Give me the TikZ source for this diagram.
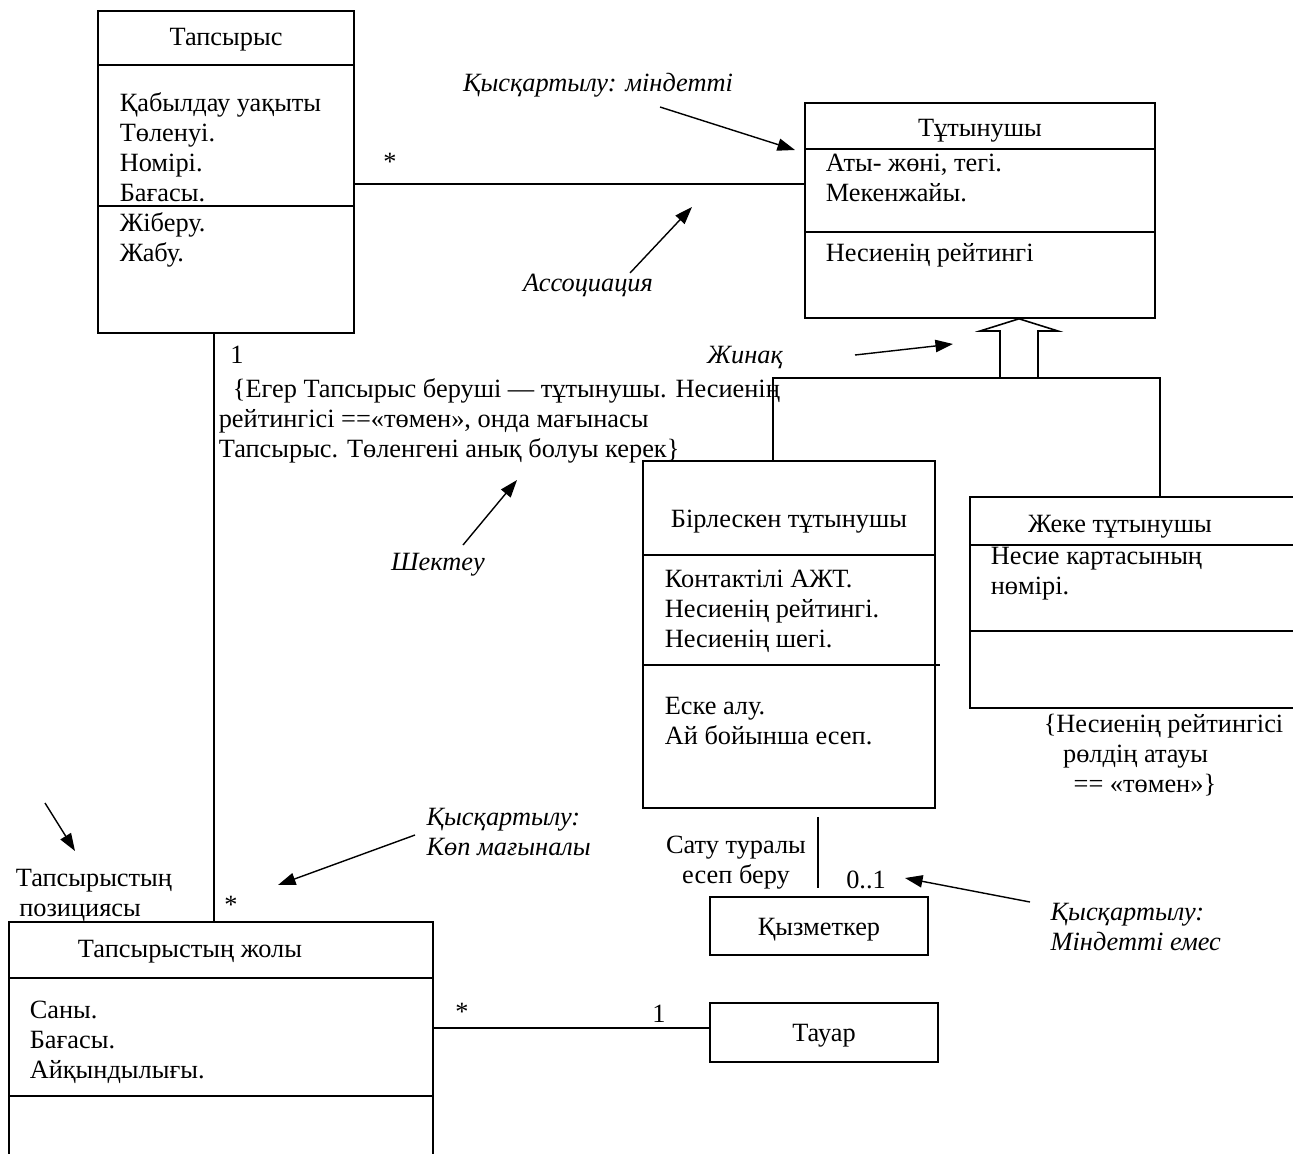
\documentclass[tikz,border=0pt]{standalone}
\usepackage{fontspec}
\setmainfont{Liberation Serif}
\usetikzlibrary{fit,arrows.meta}

\begin{document}
\begin{tikzpicture}[x=0.02cm,y=-0.02cm,line width=0.9pt,
  font=\fontsize{15}{17}\selectfont,
  class_box/.style={draw,inner sep=0pt},
  attr_text/.style={anchor=west,align=left,inner sep=0pt},
  note_text/.style={font=\fontsize{15}{17}\selectfont\itshape,align=left},
  ptr/.style={-{Triangle[length=10pt,width=7pt]},line width=0.8pt}]
    \useasboundingbox (0,0) rectangle (1293,1153);
    \clip (0,0) rectangle (1293,1153);

    % Тапсырыс
    \node[class_box, fit={(98,11) (354,333)}] (order) {};
    \draw (98,65) -- (354,65) (98,206) -- (354,206);
    \node (order_name) at (226,40) {Тапсырыс};
    \node[attr_text] (order_attr) at (119,147) {Қабылдау уақыты\\Төленуі.\\Номірі.\\Бағасы.};
    \node[attr_text] (order_ops) at (119,240) {Жіберу.\\Жабу.};

    % Тұтынушы
    \node[class_box, fit={(805,103) (1155,318)}] (cust) {};
    \draw (805,149) -- (1155,149) (805,232) -- (1155,232);
    \node (cust_name) at (980,131) {Тұтынушы};
    \node[attr_text] (cust_attr) at (825,178) {Аты- жөні, тегі.\\Мекенжайы.};
    \node[attr_text] (cust_ops) at (825,255) {Несиенің рейтингі};

    % Бірлескен тұтынушы
    \node[class_box, fit={(643,461) (935,808)}] (corp) {};
    \draw (643,555) -- (935,555) (643,665) -- (940,665);
    \node (corp_name) at (789,522) {Бірлескен тұтынушы};
    \node[attr_text] (corp_attr) at (664,611) {Контактілі АЖТ.\\Несиенің рейтингі.\\Несиенің шегі.};
    \node[attr_text] (corp_ops) at (664,721) {Еске алу.\\Ай бойынша есеп.};

    % Жеке тұтынушы
    \node[class_box, fit={(970,497) (1300,708)}] (pers) {};
    \draw (970,545) -- (1300,545) (970,631) -- (1300,631);
    \node (pers_name) at (1120,527) {Жеке тұтынушы};
    \node[attr_text] (pers_attr) at (990,574) {Несие картасының\\нөмірі.};
    \node[attr_text] (pers_rule) at (1043,755) {\{Несиенің рейтингісі\\\hspace*{11pt}рөлдің атауы\\\hspace*{17pt}== «төмен»\}};

    % Тапсырыстың жолы
    \node[class_box, fit={(9,922) (433,1170)}] (line) {};
    \draw (9,978) -- (433,978) (9,1096) -- (433,1096);
    \node (line_name) at (190,952) {Тапсырыстың жолы};
    \node[attr_text] (line_attr) at (29,1042) {Саны.\\Бағасы.\\Айқындылығы.};

    \node[class_box, fit={(710,897) (928,955)}] (staff) {};
    \node (staff_name) at ([yshift=-2pt]staff.center) {Қызметкер};
    \node[class_box, fit={(710,1003) (938,1062)}] (goods) {};
    \node (goods_name) at ([yshift=-2pt]goods.center) {Тауар};

    % жинақ
    \draw (1000,378) -- (1000,331) -- (980,331) -- (1019,0 |- cust.south) -- (1058,331) -- (1038,331) -- (1038,378);
    \draw (773,0 |- corp.north) |- (1160,378) -- (1160,0 |- pers.north);

    % ассоциациялар
    \draw (order.east |- 0,184) -- (cust.west |- 0,184);
    \draw (214,0 |- order.south) -- (214,0 |- line.north);
    \draw[shorten <=0.16cm,shorten >=0.16cm] (818,0 |- corp.south) -- (818,0 |- staff.north);
    \draw (line.east |- 0,1028) -- (goods.west |- 0,1028);

    \node (m1) at (390,162) {*};
    \node (m2) at (237,355) {1};
    \node (m3) at (231,905) {*};
    \node (m4) at (462,1012) {*};
    \node (m5) at (659,1014) {1};
    \node (m6) at (866,880) {0..1};
    \node[align=center] (report) at (736,863) {Сату туралы\\есеп беру};
    \node[attr_text] (pos) at (15,895) {Тапсырыстың\\\hspace*{2pt}позициясы};
    \node[attr_text] (rule) at (218,421) {\hspace*{8pt}\{Егер Тапсырыс беруші — тұтынушы. Несиенің\\рейтингісі ==«төмен», онда мағынасы\\Тапсырыс. Төленгені анық болуы керек\}};

    % түсіндірмелер
    \node[note_text] (must) at (598,85) {Қысқартылу: міндетті};
    \node[note_text] (assoc) at (588,285) {Ассоциация};
    \node[note_text] (gen) at (745,357) {Жинақ};
    \node[note_text] (limit) at (438,565) {Шектеу};
    \node[note_text,anchor=west] (many) at (420,832) {Қысқартылу:\\Көп мағыналы};
    \node[note_text,anchor=west] (opt) at (1044,927) {Қысқартылу:\\Міндетті емес};
    \coordinate (must_tail) at (660,107); \coordinate (must_tip) at (795,150);
    \coordinate (assoc_tail) at (630,273); \coordinate (assoc_tip) at (692,207);
    \coordinate (gen_tail) at (855,355); \coordinate (gen_tip) at (953,344);
    \coordinate (limit_tail) at (463,545); \coordinate (limit_tip) at (517,480);
    \coordinate (many_tail) at (415,835); \coordinate (many_tip) at (278,885);
    \coordinate (pos_tail) at (45,803); \coordinate (pos_tip) at (75,851);
    \coordinate (opt_tail) at (1030,902); \coordinate (opt_tip) at (905,878);
    \draw[ptr] (must_tail) -- (must_tip);
    \draw[ptr] (assoc_tail) -- (assoc_tip);
    \draw[ptr] (gen_tail) -- (gen_tip);
    \draw[ptr] (limit_tail) -- (limit_tip);
    \draw[ptr] (many_tail) -- (many_tip);
    \draw[ptr] (pos_tail) -- (pos_tip);
    \draw[ptr] (opt_tail) -- (opt_tip);
\end{tikzpicture}
\end{document}
